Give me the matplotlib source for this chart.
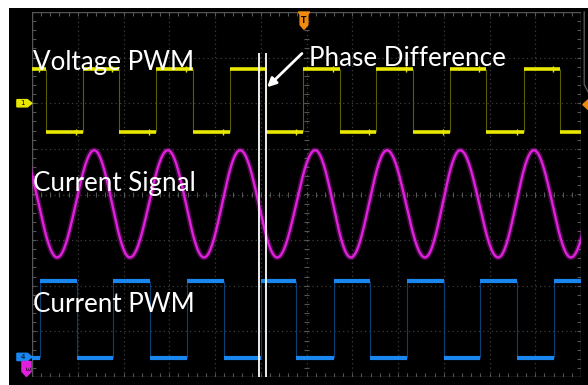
import numpy as np
import matplotlib
matplotlib.use("Agg")
import matplotlib.pyplot as plt
from matplotlib.patches import Polygon

# scope screen values, in graticule divisions (12 x 8 div, centre = 0, 0)
# CH1 voltage PWM edges
v_rise = [-4.89, -3.29, -1.67, -0.08, 1.52, 3.14, 4.75]
v_fall = [-5.69, -4.10, -2.48, -0.89, 0.73, 2.33, 3.92, 5.54]
v_high, v_low = 2.74, 1.37

# CH3 current signal extrema
i_peaks = [-6.26, -4.64, -3.03, -1.45, 0.19, 1.76, 3.36, 4.97, 6.59]
i_troughs = [-5.45, -3.86, -2.24, -0.64, 0.97, 2.59, 4.19, 5.78]
i_top, i_bottom = 0.97, -1.38

# CH4 current PWM edges
c_rise = [-5.83, -4.23, -2.61, -1.00, 0.60, 2.20, 3.79, 5.41]
c_fall = [-5.02, -3.42, -1.80, -0.23, 1.39, 3.01, 4.60]
c_high, c_low = -1.89, -3.58

cursors = [-1.03, -0.89]
labels = ["Voltage PWM", "Current Signal", "Current PWM"]
label_y = [2.72, 0.07, -2.57]

YELLOW = "#e8e800"
MAGENTA = "#e020dc"
BLUE = "#1a86f0"
ORANGE = "#f08a10"
GRID = "#3e3e3e"
FRAME = "#555555"


def segments(rise, fall, hi, lo, x0=-6, x1=6):
    edges = sorted([(t, 1) for t in rise] + [(t, 0) for t in fall])
    level = 1 - edges[0][1]
    segs = []
    start = x0
    for t, new in edges:
        segs.append((start, t, hi if level else lo))
        start, level = t, new
    segs.append((start, x1, hi if level else lo))
    return segs, [t for t, _ in edges]


def draw_square(ax, rise, fall, hi, lo, color, edge_color, lw=2.6, marks=False):
    segs, edges = segments(rise, fall, hi, lo)
    ax.vlines(edges, lo, hi, color=edge_color, lw=0.8, zorder=3)
    for s, e, y in segs:
        ax.hlines(y, s, e, color=color, lw=lw, zorder=4)
        if marks and e < 6:
            ax.plot(e - 0.15, y, marker="|", ms=5, mew=1.0, color=color, zorder=4)


fig = plt.figure(figsize=(5.88, 3.85), dpi=100, facecolor="white")
bg = fig.add_axes([9 / 588, 0, 579 / 588, 377 / 385])
bg.set_facecolor("black")
bg.set_xticks([])
bg.set_yticks([])
for sp in bg.spines.values():
    sp.set_visible(False)

ax = fig.add_axes([32 / 588, 8 / 385, 549 / 588, 365 / 385])
ax.set_xlim(-6, 6)
ax.set_ylim(-4, 4)
ax.set_axis_off()

# graticule
for i in range(-5, 6):
    ax.axvline(i, ls=(0, (1, 2.5)), color=GRID, lw=0.9, zorder=1)
for j in range(-3, 4):
    ax.axhline(j, ls=(0, (1, 2.5)), color=GRID, lw=0.9, zorder=1)
ax.plot([-6, 6, 6, -6, -6], [-4, -4, 4, 4, -4], color=FRAME, lw=1.0, zorder=1)
tx = np.arange(-6, 6.01, 0.2)
ty = np.arange(-4, 4.01, 0.2)
ax.vlines(tx, 3.92, 4, color=FRAME, lw=0.8, zorder=1)
ax.vlines(tx, -4, -3.92, color=FRAME, lw=0.8, zorder=1)
ax.vlines(tx, -0.06, 0.06, color=FRAME, lw=0.8, zorder=1)
ax.hlines(ty, -6, -5.92, color=FRAME, lw=0.8, zorder=1)
ax.hlines(ty, 5.92, 6, color=FRAME, lw=0.8, zorder=1)
ax.hlines(ty, -0.06, 0.06, color=FRAME, lw=0.8, zorder=1)

# traces
draw_square(ax, v_rise, v_fall, v_high, v_low, YELLOW, "#5c5c00", marks=True)
draw_square(ax, c_rise, c_fall, c_high, c_low, BLUE, "#0b3f78", lw=3.0)

ext = sorted([(t, i_top) for t in i_peaks] + [(t, i_bottom) for t in i_troughs])
xs, ys = [], []
for (t0, y0), (t1, y1) in zip(ext[:-1], ext[1:]):
    s = np.linspace(0, 1, 40)
    xs.append(t0 + (t1 - t0) * s)
    ys.append(y0 + (y1 - y0) * (1 - np.cos(np.pi * s)) / 2)
xs = np.concatenate(xs)
ys = np.concatenate(ys)
ax.plot(xs, ys, color=MAGENTA, lw=4, alpha=0.3, zorder=3)
ax.plot(xs, ys, color=MAGENTA, lw=1.7, zorder=3)

# cursors and annotation
ax.vlines(cursors, -4, 3.11, color="white", lw=1.3, zorder=5)
ax.annotate("", xy=(-0.86, 2.35), xytext=(-0.10, 3.09),
            arrowprops=dict(arrowstyle="-|>", color="white", lw=2.0,
                            mutation_scale=13, shrinkA=0, shrinkB=0), zorder=6)

font = dict(family=["Lato", "DejaVu Sans"], color="white", fontsize=18.7, zorder=7)
for lab, y in zip(labels, label_y):
    ax.text(-5.98, y, lab, ha="left", va="baseline", **font)
ax.text(0.06, 2.81, "Phase Difference", ha="left", va="baseline", **font)

# channel tags
tag1 = [(-6.33, 2.08), (-6.1, 2.08), (-6.0, 2.0), (-6.1, 1.92), (-6.33, 1.92)]
tag4 = [(-6.33, -3.48), (-6.1, -3.48), (-6.0, -3.56), (-6.1, -3.64), (-6.33, -3.64)]
tag3 = [(-6.22, -3.66), (-6.02, -3.66), (-6.02, -3.88), (-6.12, -3.99), (-6.22, -3.88)]
for pts, col, txt, cx, cy, rot in [(tag1, YELLOW, "1", -6.2, 2.0, 0),
                                   (tag4, BLUE, "4", -6.2, -3.56, 0),
                                   (tag3, MAGENTA, "3", -6.12, -3.8, -90)]:
    ax.add_patch(Polygon(pts, closed=True, color=col, clip_on=False, zorder=6))
    ax.text(cx, cy, txt, color="black", fontsize=5, ha="center", va="center",
            rotation=rot, clip_on=False, zorder=7)

# trigger marker
ax.add_patch(Polygon([(-0.18, 4.0), (0.07, 4.0), (0.03, 3.95), (-0.14, 3.95)],
                     closed=True, color=ORANGE, clip_on=False, zorder=6))
ax.add_patch(Polygon([(-0.14, 3.96), (0.03, 3.96), (0.03, 3.72), (-0.055, 3.62), (-0.14, 3.72)],
                     closed=True, color=ORANGE, clip_on=False, zorder=6))
ax.text(-0.055, 3.81, "T", color="black", fontsize=5.5, fontweight="bold",
        ha="center", va="center", zorder=7)
ax.add_patch(Polygon([(6.04, 1.97), (6.16, 2.08), (6.16, 1.86)],
                     closed=True, color=ORANGE, clip_on=False, zorder=6))
ax.plot([6.07, 6.07, 6.16], [4.0, 2.41, 2.24], color="#606060", lw=0.9, clip_on=False)

fig.savefig("out.png", dpi=100, facecolor="white")
